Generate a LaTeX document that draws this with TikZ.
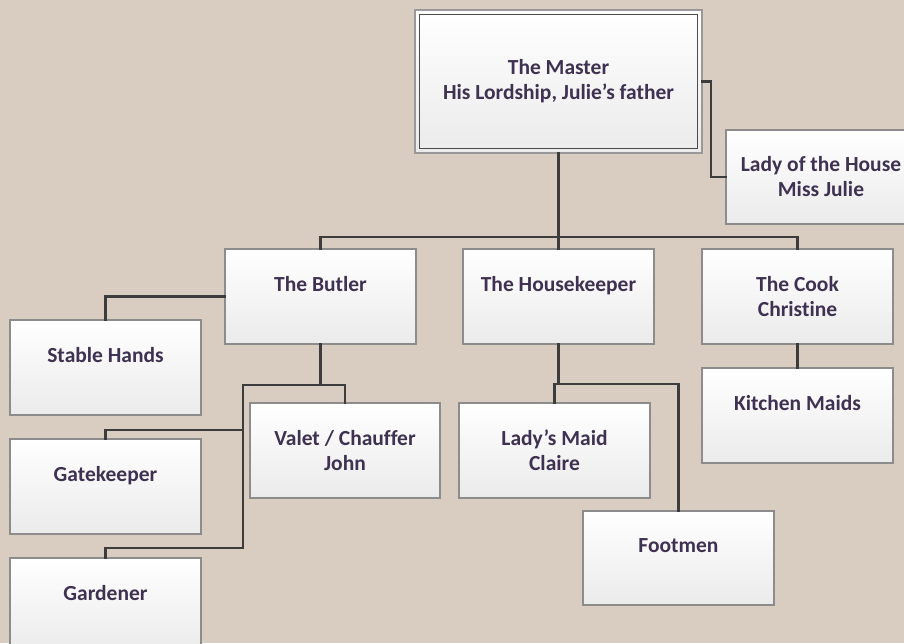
\documentclass[tikz,border=0pt]{standalone}
\usepackage{fontspec}
\setmainfont{Carlito}[Ligatures={NoCommon}]
\usetikzlibrary{shadows}
\definecolor{bgc}{RGB}{217,205,193}
\definecolor{txt}{RGB}{63,49,81}
\definecolor{boxline}{RGB}{140,140,140}
\definecolor{conncol}{RGB}{60,60,60}
\tikzset{
  orgbox/.style={draw=boxline, line width=1.1pt, top color=white, bottom color=black!8,
    minimum width=191pt, minimum height=95pt, inner sep=0pt, align=center,
    text=txt, font=\fontsize{21.5}{25}\selectfont\bfseries,
    drop shadow={shadow xshift=1pt, shadow yshift=-1pt, opacity=0.35, fill=black!60}},
  conn/.style={draw=conncol, line width=2.8pt, line cap=rect},
}
\begin{document}
\begin{tikzpicture}[x=1pt,y=-1pt]
\useasboundingbox (0,0) rectangle (904,643);
\fill[bgc] (0,0) rectangle (904,643);
\clip (0,0) rectangle (904,643);
% junction points
\coordinate (mbus) at (558.5,237);
\coordinate (bbus) at (320.5,385);
\coordinate (bj) at (243,385);
\coordinate (gj) at (243,430);
\coordinate (gdj) at (243,548);
\coordinate (hbus) at (558.5,384);
\coordinate (mside) at (711,81.5);
% nodes
\node[orgbox, minimum width=287pt, minimum height=143pt, draw=black!40, line width=1.3pt] (master) at (558.5,81.5) {The Master\\His Lordship, Julie’s father};
\draw[draw=black!70, line width=1.1pt] ([shift={(5,5)}]master.north west) rectangle ([shift={(-5,-5)}]master.south east);
\node[orgbox, minimum width=190pt, minimum height=94pt] (lady) at (821,177) {Lady of the House\\Miss Julie};
\node[orgbox] (butler) at (320.5,296.5) {The Butler\\\mbox{}};
\node[orgbox] (housekeeper) at (558.5,296.5) {The Housekeeper\\\mbox{}};
\node[orgbox] (cook) at (797.5,296.5) {The Cook\\Christine};
\node[orgbox] (kitchen) at (797.5,415.5) {Kitchen Maids\\\mbox{}};
\node[orgbox] (stable) at (105.5,367.5) {Stable Hands\\\mbox{}};
\node[orgbox, minimum width=190pt] (valet) at (345,450.5) {Valet / Chauffer\\John};
\node[orgbox] (gatekeeper) at (105.5,486.5) {Gatekeeper\\\mbox{}};
\node[orgbox] (gardener) at (105.5,605.5) {Gardener\\\mbox{}};
\node[orgbox] (ladysmaid) at (554.5,450.5) {Lady’s Maid\\Claire};
\node[orgbox, minimum height=94pt] (footmen) at (678.5,558) {Footmen\\\mbox{}};
% connectors
\draw[conn] (master.south) -- (mbus);
\draw[conn] (butler.north) |- (mbus) -| (cook.north);
\draw[conn] (mbus) -- (housekeeper.north);
\draw[conn] (master.east) -- (mside) |- (lady.west);
\draw[conn] (butler.west) -| (stable.north);
\draw[conn] (butler.south) -- (bbus);
\draw[conn] (valet.north) |- (bbus) -- (bj) -- (gdj) -| (gardener.north);
\draw[conn] (gj) -| (gatekeeper.north);
\draw[conn] (housekeeper.south) -- (hbus);
\draw[conn] (ladysmaid.north) |- (hbus) -| (footmen.north);
\draw[conn] (cook.south) -- (kitchen.north);
\end{tikzpicture}
\end{document}
